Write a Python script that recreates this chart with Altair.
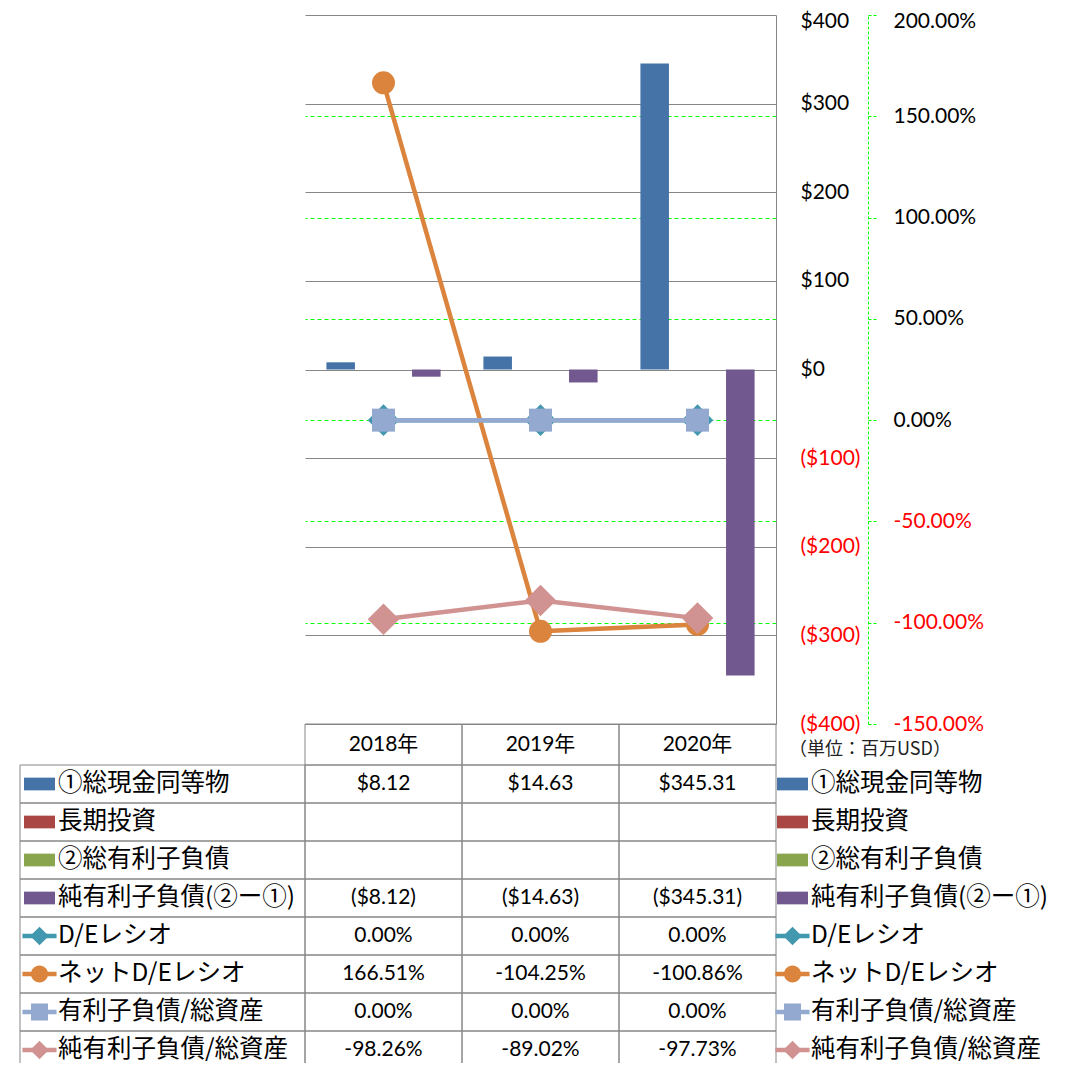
import altair as alt
import pandas as pd

# ---------------- data ----------------
years = ["2018年", "2019年", "2020年"]
bar_series = ["①総現金同等物", "長期投資", "②総有利子負債", "純有利子負債(②ー①)"]
line_series = ["D/Eレシオ", "ネットD/Eレシオ", "有利子負債/総資産", "純有利子負債/総資産"]

cash = [8.12, 14.63, 345.31]
long_inv = [None, None, None]
total_debt = [None, None, None]
net_debt = [-8.12, -14.63, -345.31]

de_ratio = [0.00, 0.00, 0.00]
net_de_ratio = [166.51, -104.25, -100.86]
debt_to_assets = [0.00, 0.00, 0.00]
net_debt_to_assets = [-98.26, -89.02, -97.73]

usd_ticks = [-400, -300, -200, -100, 0, 100, 200, 300, 400]
pct_ticks = [-150, -100, -50, 0, 50, 100, 150, 200]
unit_note = "（単位：百万USD）"

# ---------------- styles ----------------
bar_colors = ["#4572A7", "#AA4643", "#89A54E", "#71588F"]
line_colors = ["#4198AF", "#DB843D", "#93A9CF", "#D19392"]
all_series = bar_series + line_series
all_colors = bar_colors + line_colors

W, H = 471, 709
GRAY = "#868686"
LIME = "#00FF00"
NUM_FONT = "Lato"
CJK_FONT = "Noto Sans CJK JP"
MIX_FONT = "Lato, 'Noto Sans CJK JP'"

# ---------------- frames ----------------
bar_rows = []
for s, vals in zip(bar_series, [cash, long_inv, total_debt, net_debt]):
    for yr, v in zip(years, vals):
        if v is not None:
            bar_rows.append({"year": yr, "series": s, "value": v})
bar_df = pd.DataFrame(bar_rows)


def fmt_usd(v):
    if v is None:
        return ""
    return f"(${-v:.2f})" if v < 0 else f"${v:.2f}"


def fmt_pct(v):
    if v is None:
        return ""
    return f"{v:.2f}%"


table_vals = [
    (cash, fmt_usd), (long_inv, fmt_usd), (total_debt, fmt_usd), (net_debt, fmt_usd),
    (de_ratio, fmt_pct), (net_de_ratio, fmt_pct), (debt_to_assets, fmt_pct), (net_debt_to_assets, fmt_pct),
]
cell_rows = []
for s, (vals, f) in zip(all_series, table_vals):
    for yr, v in zip(years, vals):
        cell_rows.append({"series": s, "year": yr, "txt": f(v)})
cell_df = pd.DataFrame(cell_rows)
series_df = pd.DataFrame({"series": all_series})
line_key_df = pd.DataFrame({"series": line_series})
header_df = pd.DataFrame({"year": years, "h": ["hdr"] * 3})

# ---------------- encodings ----------------
x_enc = alt.X("year:N", sort=years,
              scale=alt.Scale(domain=years, paddingInner=0, paddingOuter=0), axis=None)
color_enc = alt.Color("series:N", scale=alt.Scale(domain=all_series, range=all_colors), legend=None)

usd_axis = alt.Axis(
    orient="right", values=usd_ticks, grid=True, gridColor=GRAY, gridWidth=1,
    domain=True, domainColor=GRAY, domainWidth=1, ticks=False, tickSize=0,
    labelPadding=24, labelFont=NUM_FONT, labelFontSize=21, labelAlign="left",
    labelBaseline="middle", labelOverlap=False, labelFlush=False,
    labelOffset=alt.condition("datum.value == 400", alt.value(6), alt.value(0)),
    labelColor=alt.condition("datum.value < 0", alt.value("#FF0000"), alt.value("#000000")),
    labelExpr="datum.value < 0 ? '($' + format(-datum.value, 'd') + ')' : '$' + format(datum.value, 'd')",
    title=None, offset=0,
)
pct_axis = alt.Axis(
    orient="right", values=pct_ticks, grid=True, gridColor=LIME, gridWidth=1, gridDash=[4, 3],
    gridOpacity=alt.condition("datum.value == 200 || datum.value == -150", alt.value(0), alt.value(1)),
    domain=True, domainColor=LIME, domainWidth=1, domainDash=[3, 2],
    ticks=True, tickColor=LIME, tickSize=8, tickDash=[3, 2],
    labelPadding=17, labelFont=NUM_FONT, labelFontSize=21, labelAlign="left",
    labelBaseline="middle", labelOverlap=False, labelFlush=False,
    labelOffset=alt.condition("datum.value == 200", alt.value(6), alt.value(0)),
    labelColor=alt.condition("datum.value < 0", alt.value("#FF0000"), alt.value("#000000")),
    labelExpr="(datum.value < 0 ? '-' : '') + format(abs(datum.value), '.2f') + '%'",
    title=None, offset=92,
)
usd_scale = alt.Scale(domain=[-400, 400], nice=False, zero=False)


def pct_scale():
    return alt.Scale(domain=[-150, 200], nice=False, zero=False)


layers = []

bars = alt.Chart(bar_df).mark_bar(opacity=1).encode(
    x=x_enc,
    xOffset=alt.XOffset("series:N", scale=alt.Scale(domain=bar_series, paddingInner=0, paddingOuter=0.75)),
    y=alt.Y("value:Q", scale=usd_scale, axis=usd_axis, stack=None),
    color=color_enc,
)
layers.append(bars)

line_specs = [
    (de_ratio, line_colors[0], "diamond", 1000),
    (net_de_ratio, line_colors[1], "circle", 529),
    (debt_to_assets, line_colors[2], "square", 529),
    (net_debt_to_assets, line_colors[3], "diamond", 1000),
]
for i, (vals, col, shp, sz) in enumerate(line_specs):
    ldf = pd.DataFrame({"year": years, "value": vals})
    if i == 0:
        yenc = alt.Y("value:Q", scale=pct_scale(), axis=pct_axis)
    else:
        yenc = alt.Y("value:Q", scale=pct_scale(), axis=None)
    layers.append(alt.Chart(ldf).mark_line(color=col, strokeWidth=4.5, strokeCap="round", strokeJoin="round").encode(x=x_enc, y=yenc))
    layers.append(alt.Chart(ldf).mark_point(shape=shp, size=sz, filled=True, color=col, opacity=1, strokeWidth=0).encode(
        x=x_enc, y=alt.Y("value:Q", scale=pct_scale(), axis=None)))

# ---------------- data table ----------------
hdr_y = alt.Y("h:N", scale=alt.Scale(domain=["hdr"], range=[709, 750], paddingInner=0, paddingOuter=0), axis=None)
row_y = alt.Y("series:N", scale=alt.Scale(domain=all_series, range=[750, 1054], paddingInner=0, paddingOuter=0), axis=None)

layers.append(alt.Chart(header_df).mark_rect(fillOpacity=0, stroke=GRAY, strokeWidth=1).encode(x=x_enc, y=hdr_y))
layers.append(alt.Chart(header_df).mark_text(font=MIX_FONT, fontSize=21, color="#000000").encode(x=x_enc, y=hdr_y, text="year:N"))
layers.append(alt.Chart(cell_df).mark_rect(fillOpacity=0, stroke=GRAY, strokeWidth=1).encode(x=x_enc, y=row_y))
layers.append(alt.Chart(series_df).mark_rect(fillOpacity=0, stroke=GRAY, strokeWidth=1).encode(
    x=alt.value(-285), x2=alt.value(0), y=row_y))
layers.append(alt.Chart(cell_df).mark_text(font=NUM_FONT, fontSize=21, color="#000000").encode(x=x_enc, y=row_y, text="txt:N"))

SEG_PATH = "M-1.1,-0.145H1.1V0.145H-1.1Z"
key_paths = [
    "M-1,-0.41H1V0.41H-1Z", "M-1,-0.41H1V0.41H-1Z", "M-1,-0.41H1V0.41H-1Z", "M-1,-0.41H1V0.41H-1Z",
    "M-0.6,0L0,-0.6L0.6,0L0,0.6Z",
    "M0.55,0A0.55,0.55 0 1 1 -0.55,0A0.55,0.55 0 1 1 0.55,0Z",
    "M-0.55,-0.55H0.55V0.55H-0.55Z",
    "M-0.6,0L0,-0.6L0.6,0L0,0.6Z",
]
shape_enc = alt.Shape("series:N", scale=alt.Scale(domain=all_series, range=key_paths), legend=None)

for key_x, text_x in [(-265.5, -247), (487.5, 506)]:
    layers.append(alt.Chart(line_key_df).mark_point(shape=SEG_PATH, size=961, filled=True, opacity=1, strokeWidth=0).encode(
        x=alt.value(key_x), y=row_y, color=color_enc))
    layers.append(alt.Chart(series_df).mark_point(size=961, filled=True, opacity=1, strokeWidth=0).encode(
        x=alt.value(key_x), y=row_y, color=color_enc, shape=shape_enc))
    layers.append(alt.Chart(series_df).mark_text(font=CJK_FONT, fontSize=24.5, align="left", color="#000000").encode(
        x=alt.value(text_x), y=row_y, text="series:N"))

layers.append(alt.Chart(pd.DataFrame({"t": [unit_note]})).mark_text(
    font=CJK_FONT, fontSize=18, align="left", color="#222222").encode(
    x=alt.value(484), y=alt.value(735), text="t:N"))

chart = alt.layer(*layers).resolve_scale(y="independent").properties(
    width=W, height=H,
    autosize=alt.AutoSizeParams(type="none"),
    padding={"left": 297, "top": 7, "right": 282, "bottom": 339},
    background="white",
).configure_view(strokeWidth=0)

chart.save("out.html", embed_options={"renderer": "svg", "actions": False})
